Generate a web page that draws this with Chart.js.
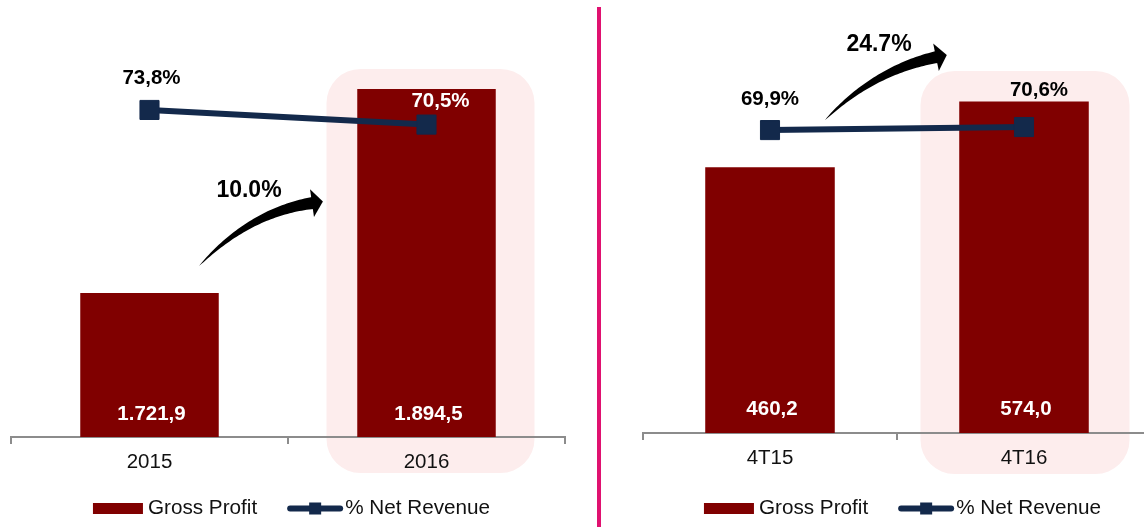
<!DOCTYPE html>
<html><head><meta charset="utf-8">
<script src="https://cdn.jsdelivr.net/npm/chart.js@4.4.1/dist/chart.umd.min.js"></script>
<style>
html,body{margin:0;padding:0;background:#fff;width:1144px;height:527px;overflow:hidden;position:relative}
canvas{position:absolute;top:0}
#c1{left:-4px}
#c2{left:600px}
#divider{position:absolute;left:597px;top:7px;width:4px;height:520px;background:#E01170}
</style></head><body>
<canvas id="c1" width="600" height="527"></canvas>
<canvas id="c2" width="566" height="527"></canvas>
<div id="divider"></div>
<script>
// ---------------- DATA ----------------
const annualCategories = ['2015', '2016'];
const annualGrossProfit = [1721.9, 1894.5];
const annualNetRevenuePct = [73.8, 70.5];

const quarterCategories = ['4T15', '4T16'];
const quarterGrossProfit = [460.2, 574.0];
const quarterNetRevenuePct = [69.9, 70.6];

const legendLabels = ['Gross Profit', '% Net Revenue'];

// ---------------- STYLE ----------------
const FONT = "'Liberation Sans', Arial, Helvetica, sans-serif";
const BAR_COLOR = '#800000';
const LINE_COLOR = '#13294B';
const BOX_COLOR = '#FDEDED';

function fmtBR(v) {
  const parts = v.toFixed(1).split('.');
  return parts[0].replace(/\B(?=(\d{3})+(?!\d))/g, '.') + ',' + parts[1];
}
function fmtPct(v) { return v.toFixed(1).replace('.', ',') + '%'; }
function growth(arr) { return ((arr[1] / arr[0] - 1) * 100).toFixed(1) + '%'; }

function drawArrow(ctx, T, C, B, maxW, headLen, headHalf) {
  const N = 50, L = [], R = [];
  for (let i = 0; i <= N; i++) {
    const t = i / N;
    const px = (1 - t) * (1 - t) * T[0] + 2 * (1 - t) * t * C[0] + t * t * B[0];
    const py = (1 - t) * (1 - t) * T[1] + 2 * (1 - t) * t * C[1] + t * t * B[1];
    let dx = 2 * (1 - t) * (C[0] - T[0]) + 2 * t * (B[0] - C[0]);
    let dy = 2 * (1 - t) * (C[1] - T[1]) + 2 * t * (B[1] - C[1]);
    const len = Math.hypot(dx, dy); dx /= len; dy /= len;
    const w = maxW / 2 * Math.pow(t, 0.75);
    L.push([px - dy * w, py + dx * w]);
    R.push([px + dy * w, py - dx * w]);
  }
  ctx.beginPath();
  ctx.moveTo(L[0][0], L[0][1]);
  L.forEach(p => ctx.lineTo(p[0], p[1]));
  for (let i = R.length - 1; i >= 0; i--) ctx.lineTo(R[i][0], R[i][1]);
  ctx.closePath();
  ctx.fill();
  let dx = B[0] - C[0], dy = B[1] - C[1];
  const len = Math.hypot(dx, dy); dx /= len; dy /= len;
  ctx.beginPath();
  ctx.moveTo(B[0] - dy * headHalf - dx * 1, B[1] + dx * headHalf - dy * 1);
  ctx.lineTo(B[0] + dx * headLen, B[1] + dy * headLen);
  ctx.lineTo(B[0] + dy * headHalf - dx * 1, B[1] - dx * headHalf - dy * 1);
  ctx.closePath();
  ctx.fill();
}

function decorPlugin(cfg) {
  return {
    id: 'decor',
    beforeDraw(chart) {
      const ctx = chart.ctx, x = chart.scales.x;
      const cx = x.getPixelForValue(1) + cfg.box.dx;
      ctx.save();
      ctx.fillStyle = BOX_COLOR;
      ctx.beginPath();
      ctx.roundRect(cx - cfg.box.w / 2, cfg.box.top, cfg.box.w, cfg.box.bottom - cfg.box.top, cfg.box.r);
      ctx.fill();
      ctx.restore();
    },
    afterDatasetsDraw(chart) {
      const ctx = chart.ctx, ca = chart.chartArea, x = chart.scales.x;
      ctx.save();
      ctx.textAlign = 'center';
      ctx.textBaseline = 'middle';
      ctx.font = 'bold 20.5px ' + FONT;
      ctx.fillStyle = '#fff';
      const barMeta = chart.getDatasetMeta(1);
      barMeta.data.forEach((bar, i) => {
        ctx.fillText(fmtBR(cfg.bars[i]), bar.x + 2, ca.bottom - cfg.barLabelUp);
      });
      const lineMeta = chart.getDatasetMeta(0);
      lineMeta.data.forEach((pt, i) => {
        const o = cfg.pctLabel[i];
        ctx.fillStyle = o.color;
        ctx.fillText(fmtPct(cfg.pct[i]), pt.x + o.dx, pt.y + o.dy);
      });
      const mid = (x.getPixelForValue(0) + x.getPixelForValue(1)) / 2;
      const a = cfg.arrow;
      ctx.fillStyle = '#000';
      drawArrow(ctx, [mid + a.T[0], a.T[1]], [mid + a.C[0], a.C[1]], [mid + a.B[0], a.B[1]], a.w, 10, 14);
      ctx.font = 'bold 23px ' + FONT;
      ctx.fillText(growth(cfg.bars), mid + a.L[0], a.L[1]);
      ctx.restore();
    },
    afterDraw(chart) {
      const ctx = chart.ctx, ca = chart.chartArea;
      ctx.save();
      ctx.font = '20.7px ' + FONT;
      ctx.textBaseline = 'middle';
      ctx.textAlign = 'left';
      const w1 = ctx.measureText(legendLabels[0]).width;
      const w2 = ctx.measureText(legendLabels[1]).width;
      const total = 50 + 5 + w1 + 30 + 56 + 2 + w2;
      const y = 508.5;
      let x0 = (ca.left + ca.right) / 2 + cfg.legendOff - total / 2;
      ctx.fillStyle = BAR_COLOR;
      ctx.fillRect(x0, y - 5.5, 50, 11);
      ctx.fillStyle = '#111';
      ctx.fillText(legendLabels[0], x0 + 55, y);
      const lx = x0 + 55 + w1 + 30;
      ctx.strokeStyle = LINE_COLOR;
      ctx.lineWidth = 6;
      ctx.lineCap = 'round';
      ctx.beginPath();
      ctx.moveTo(lx + 3, y); ctx.lineTo(lx + 53, y);
      ctx.stroke();
      ctx.fillStyle = LINE_COLOR;
      ctx.fillRect(lx + 22, y - 6, 12, 12);
      ctx.fillStyle = '#111';
      ctx.fillText(legendLabels[1], lx + 58, y);
      ctx.restore();
    }
  };
}

function makeChart(id, cfg) {
  const ctx = document.getElementById(id).getContext('2d');
  return new Chart(ctx, {
    type: 'bar',
    data: {
      labels: cfg.labels,
      datasets: [
        {
          type: 'line', label: legendLabels[1], data: cfg.pct, yAxisID: 'y1',
          borderColor: LINE_COLOR, backgroundColor: LINE_COLOR, borderWidth: 6,
          pointStyle: 'rect', pointRadius: 13.5, pointBorderWidth: 1,
          pointBackgroundColor: LINE_COLOR, pointBorderColor: LINE_COLOR,
          order: 0, clip: false
        },
        {
          type: 'bar', label: legendLabels[0], data: cfg.bars, yAxisID: 'y',
          backgroundColor: BAR_COLOR, borderWidth: 0,
          barPercentage: cfg.barPct, categoryPercentage: 1, order: 1
        }
      ]
    },
    options: {
      responsive: false, animation: false, events: [],
      layout: { padding: { left: cfg.padL, right: cfg.padR, top: 20, bottom: 0 } },
      plugins: { legend: { display: false }, tooltip: { enabled: false } },
      scales: {
        x: {
          z: 1,
          offset: true,
          grid: { offset: true, drawOnChartArea: false, drawTicks: true, tickLength: 7, color: '#8c8c8c', lineWidth: 2 },
          border: { display: true, color: '#8c8c8c', width: 2 },
          ticks: { color: '#111', font: { family: FONT, size: 20.5 }, padding: 6 },
          afterFit: s => { s.height = cfg.xH; }
        },
        y: { display: false, min: cfg.yMin, max: cfg.yMax },
        y1: { display: false, min: 0, max: cfg.pMax }
      }
    },
    plugins: [decorPlugin(cfg)]
  });
}

makeChart('c1', {
  labels: annualCategories, bars: annualGrossProfit, pct: annualNetRevenuePct,
  padL: 15, padR: 31, xH: 90, barPct: 0.5,
  yMin: 1600, yMax: 1953, pMax: 94.1,
  barLabelUp: 23, legendOff: 3.5,
  pctLabel: [{ dx: 2, dy: -32, color: '#000' }, { dx: 14, dy: -23, color: '#fff' }],
  box: { dx: 4, w: 208, top: 69, bottom: 473, r: 34 },
  arrow: { T: [-89, 266], C: [-38, 212], B: [25, 203], w: 12, L: [-39, 191] }
});

makeChart('c2', {
  labels: quarterCategories, bars: quarterGrossProfit, pct: quarterNetRevenuePct,
  padL: 43, padR: 15, xH: 94, barPct: 0.51,
  yMin: 0, yMax: 715, pMax: 95.3,
  barLabelUp: 24, legendOff: 5.5,
  pctLabel: [{ dx: 0, dy: -31, color: '#000' }, { dx: 15, dy: -37, color: '#000' }],
  box: { dx: 1, w: 209, top: 71, bottom: 474, r: 34 },
  arrow: { T: [-72, 120], C: [-23, 70], B: [40, 57], w: 12, L: [-18, 45] }
});
</script>
</body></html>
